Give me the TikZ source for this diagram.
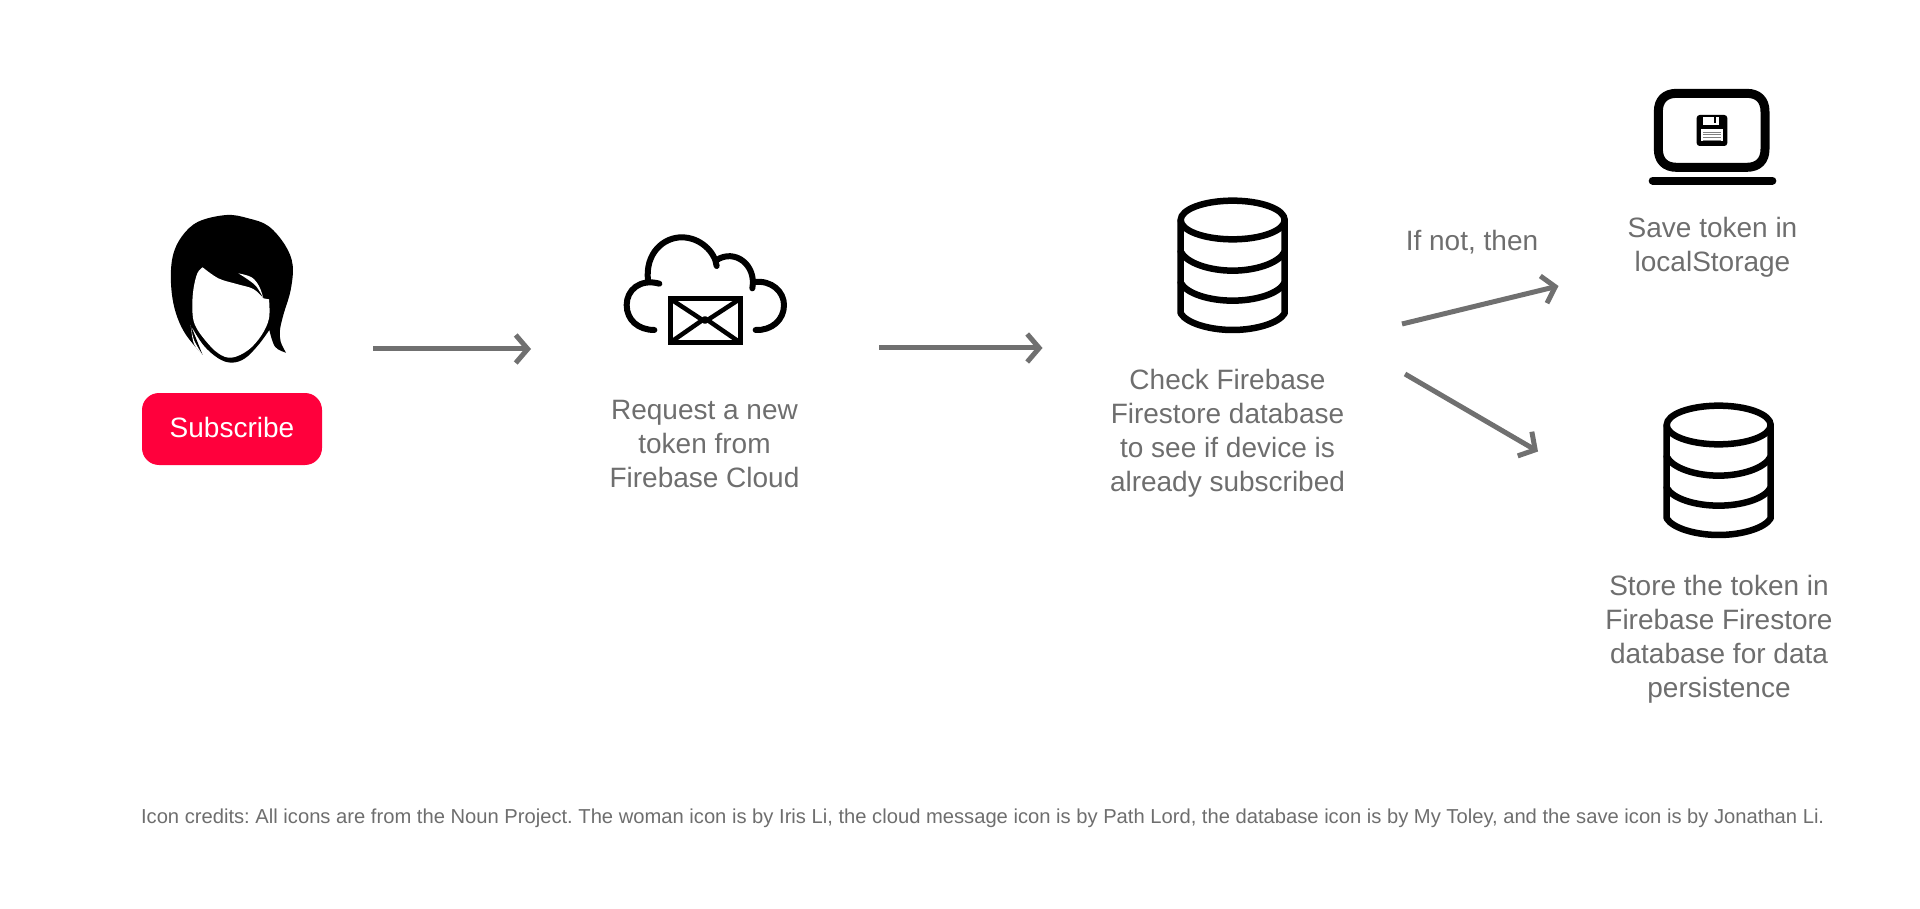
\documentclass[tikz,border=0pt]{standalone}
\usepackage{fontspec}
\setmainfont{Liberation Sans}
\usetikzlibrary{arrows.meta}
\frenchspacing
\definecolor{txtgray}{HTML}{6E6E6E}
\definecolor{arrgray}{HTML}{707070}
\definecolor{btnred}{HTML}{FF003C}
\tikzset{
  lbl/.style={text=txtgray,align=center,font=\fontsize{28}{34}\selectfont,inner sep=0pt},
  flow/.style={draw=arrgray,line width=5pt,-{Straight Barb[length=12pt,width=28pt,line width=5pt]}},
  icon/.style={draw=black,line cap=round,line join=round,fill=none},
  dbicon/.pic={
    \draw[icon,line width=6.5pt] (248,120) ellipse [x radius=156,y radius=58];
    \draw[icon,line width=6.5pt] (92,120) -- (92,400) .. controls (110,430) and (180,450) .. (248,450) .. controls (316,450) and (386,430) .. (404,400) -- (404,120);
    \draw[icon,line width=6.5pt] (92,215) .. controls (110,250) and (180,272) .. (248,272) .. controls (316,272) and (386,250) .. (404,215);
    \draw[icon,line width=6.5pt] (92,308) .. controls (110,342) and (180,362) .. (248,362) .. controls (316,362) and (386,342) .. (404,308);
  }
}
\begin{document}
\begin{tikzpicture}[x=1pt,y=-1pt]
\useasboundingbox (0,0) rectangle (1920,909);
% woman
\begin{scope}[shift={(120,190)},scale=1/3]
  \fill[black] plot[smooth,tension=.6] coordinates {(248,495) (195,430) (165,360) (153,280) (158,200) (185,140) (235,95) (320,75) (385,85) (445,108) (495,165) (518,225) (512,300) (490,375) (480,420) (482,455) (498,488)}
    -- plot[smooth,tension=.6] coordinates {(498,488) (465,470) (448,420)}
    -- plot[smooth,tension=.6] coordinates {(448,420) (415,465) (375,505) (335,518) (295,505) (250,465) (212,405)}
    -- cycle;
  \fill[white] plot[smooth,tension=.6] coordinates {(248,232) (295,265) (350,282) (400,297) (430,325)}
    -- (447,328)
    -- plot[smooth,tension=.6] coordinates {(447,328) (447,385) (425,435) (385,480) (335,503) (295,490) (255,450) (225,405) (217,360) (220,300) (232,250) (248,232)}
    -- cycle;
  \fill[white] plot[smooth,tension=.6] coordinates {(355,250) (395,262) (418,290) (430,325)}
    -- plot[smooth,tension=.6] coordinates {(430,325) (405,285) (355,250)} -- cycle;
  \fill[white] plot[smooth,tension=.6] coordinates {(212,405) (222,450) (248,495)}
    -- plot[smooth,tension=.6] coordinates {(248,495) (222,462) (212,405)} -- cycle;
\end{scope}
\node[fill=btnred,rounded corners=17pt,minimum width=180pt,minimum height=72pt,inner sep=0pt,text=white,font=\fontsize{28}{34}\selectfont,text depth=0pt,text height=20pt] (subscribe) at (232,429) {\raisebox{1.5pt}{Subscribe}};
% cloud
\begin{scope}[shift={(600,210)},scale=1/3]
  \draw[icon,line width=6pt] (178,221) .. controls (120,205) and (80,240) .. (80,285) .. controls (80,330) and (115,360) .. (163,360);
  \draw[icon,line width=6pt] (144,212) .. controls (135,130) and (190,82) .. (245,82) .. controls (300,82) and (345,125) .. (350,168);
  \draw[icon,line width=6pt] (350,150) .. controls (405,115) and (470,165) .. (457,235);
  \draw[icon,line width=6pt] (463,216) .. controls (515,210) and (552,245) .. (552,285) .. controls (552,330) and (515,362) .. (467,360);
  \draw[icon,line width=5pt,line join=miter] (210,265) rectangle (421,399);
  \draw[icon,line width=4.5pt] (213,268) -- (315,335) -- (418,268);
  \draw[icon,line width=4.5pt] (213,396) -- (315,325) -- (418,396);
\end{scope}
% databases
\pic (dbone) at (1150,180) [scale=1/3] {dbicon};
\pic (dbtwo) at (1636,385) [scale=1/3] {dbicon};
% save icon
\begin{scope}[shift={(1630,70)},scale=1/3]
  \draw[icon,line width=9pt] (85,125) .. controls (85,90) and (105,70) .. (140,70) -- (350,70) .. controls (385,70) and (405,90) .. (405,125) -- (405,237) .. controls (405,272) and (385,292) .. (350,292) -- (140,292) .. controls (105,292) and (85,272) .. (85,237) -- cycle;
  \draw[icon,line width=8pt] (68,332) -- (427,332);
  \fill[black,rounded corners=3pt] (200,135) rectangle (292,228);
  \fill[white] (220,140) rectangle (266,165);
  \fill[black] (252,141) rectangle (259,158);
  \fill[white] (213,178) rectangle (278,213);
  \foreach \yy in {185,193,201,209}{\fill[gray] (218,\yy) rectangle (273,\yy+3);}
\end{scope}
% labels
\node[lbl] (request) at (704.5,444.5) {Request a new\\token from\\Firebase Cloud};
\node[lbl] (check) at (1227.5,433.5) {Check Firebase\\Firestore database\\to see if device is\\already subscribed};
\node[lbl] (save) at (1712.5,247.5) {Save token in\\localStorage};
\node[lbl] (ifnot) at (1472,242.5) {If not, then};
\node[lbl] (store) at (1719,639.5) {Store the token in\\Firebase Firestore\\database for data\\persistence};
\node[text=txtgray,inner sep=0pt,font=\fontsize{20.18}{24}\selectfont] (credits) at (982.7,818) {Icon credits: All icons are from the Noun Project. The woman icon is by Iris Li, the cloud message icon is by Path Lord, the database icon is by My Toley, and the save icon is by Jonathan Li.};
% connectors
\coordinate (a1s) at (373,349); \coordinate (a1e) at (531,349);
\coordinate (a2s) at (879,348); \coordinate (a2e) at (1042.5,348);
\coordinate (a3s) at (1402,324); \coordinate (a3e) at (1558.5,286);
\coordinate (a4s) at (1405,374); \coordinate (a4e) at (1538,451.5);
\draw[flow] (a1s) -- (a1e);
\draw[flow] (a2s) -- (a2e);
\draw[flow] (a3s) -- (a3e);
\draw[flow] (a4s) -- (a4e);
\end{tikzpicture}
\end{document}
